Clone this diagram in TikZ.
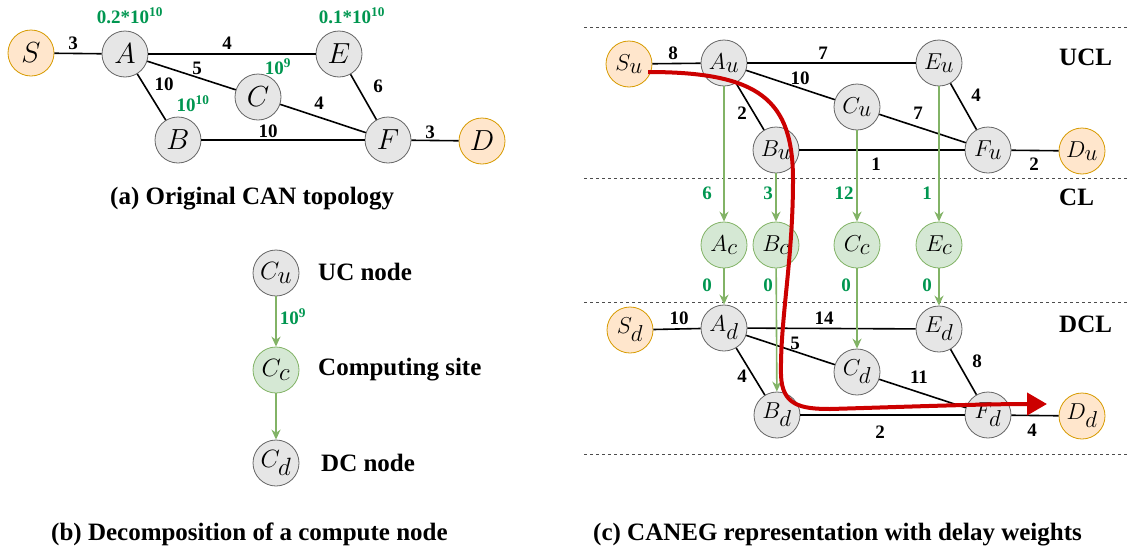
\RequirePackage{fix-cm}
\documentclass[tikz,border=0pt]{standalone}
\usepackage{fontspec}
\setmainfont{Liberation Serif}
\usetikzlibrary{arrows.meta}
\definecolor{gfill}{HTML}{E6E6E6}
\definecolor{gline}{HTML}{666666}
\definecolor{ofill}{HTML}{FFE6CC}
\definecolor{oline}{HTML}{D79B00}
\definecolor{cfill}{HTML}{D5E8D4}
\definecolor{cline}{HTML}{82B366}
\definecolor{gtext}{RGB}{0,150,80}
\definecolor{pathred}{HTML}{CC0000}
\newcommand\nsub[2]{#1_{\textstyle #2}}
\tikzset{
  base/.style={circle, minimum size=46pt, inner sep=0pt, line width=0.8pt},
  grynode/.style={base, draw=gline, fill=gfill},
  orgnode/.style={base, draw=oline, fill=ofill},
  grnnode/.style={base, draw=cline, fill=cfill},
  fa/.style={font=\fontsize{29}{31}\selectfont},
  fb/.style={font=\fontsize{25}{27}\selectfont},
  fc/.style={font=\fontsize{23}{25}\selectfont},
  edge/.style={line width=1.6pt, black},
  wt/.style={font=\bfseries\fontsize{19}{21}\selectfont, inner sep=0pt},
  gwt/.style={font=\bfseries\fontsize{19}{21}\selectfont, inner sep=0pt, text=gtext},
  garrow/.style={line width=1.6pt, draw=cline, -{Stealth[length=10pt,width=9pt]}},
  lbl/.style={font=\bfseries\fontsize{25}{27}\selectfont, inner sep=0pt},
  layerline/.style={line width=0.7pt, draw=black!70, dash pattern=on 3pt off 3pt},
}
\begin{document}
\begin{tikzpicture}[x=1pt,y=-1pt]
\useasboundingbox (0,0) rectangle (1130,552);
% ---------- (a) ----------
\node[orgnode,fa] (S) at (31,53) {$S$};
\node[grynode,fa] (A) at (125,54) {$A$};
\node[grynode,fa] (E) at (339,54) {$E$};
\node[grynode,fa] (C) at (258,97) {$C$};
\node[grynode,fa] (B) at (178,140) {$B$};
\node[grynode,fa] (F) at (388,140) {$F$};
\node[orgnode,fa] (D) at (482,141) {$D$};
\draw[edge] (S) -- (A);
\draw[edge] (A) -- (E);
\draw[edge] (A) -- (C);
\draw[edge] (A) -- (B);
\draw[edge] (C) -- (F);
\draw[edge] (E) -- (F);
\draw[edge] (B) -- (F);
\draw[edge] (F) -- (D);
\node[wt] (wa1) at (73,43) {3};
\node[wt] (wa2) at (227,43) {4};
\node[wt] (wa3) at (197,68) {5};
\node[wt] (wa4) at (164,84) {10};
\node[wt] (wa5) at (378,86) {6};
\node[wt] (wa6) at (319,103) {4};
\node[wt] (wa7) at (268,131) {10};
\node[wt] (wa8) at (430,132) {3};
\node[gwt] (ca) at (130,16) {0.2*10\textsuperscript{10}};
\node[gwt] (ce) at (352,16) {0.1*10\textsuperscript{10}};
\node[gwt] (cb) at (193,104) {10\textsuperscript{10}};
\node[gwt] (cc) at (278,67) {10\textsuperscript{9}};
\node[lbl, anchor=base west] (capa) at (110,204) {(a) Original CAN topology};
% ---------- (b) ----------
\node[grynode,fb] (Cu) at (276,273) {$\nsub{C}{u}$};
\node[grnnode,fb] (Cc) at (276,370) {$\nsub{C}{c}$};
\node[grynode,fb] (Cd) at (276,463) {$\nsub{C}{d}$};
\draw[garrow] (Cu) -- (Cc);
\draw[garrow] (Cc) -- (Cd);
\node[gwt] (cw) at (293,317) {10\textsuperscript{9}};
\node[lbl, anchor=west] (lu) at (318,272) {UC node};
\node[lbl, anchor=west] (lc) at (318,370) {Computing site};
\node[lbl, anchor=west] (ld) at (321,463) {DC node};
\node[lbl, anchor=base west] (capb) at (51,540) {(b) Decomposition of a compute node};
% ---------- (c) ----------
\coordinate (l1a) at (584,27);  \coordinate (l1b) at (1130,27);
\coordinate (l2a) at (584,178); \coordinate (l2b) at (1130,178);
\coordinate (l3a) at (584,302); \coordinate (l3b) at (1130,302);
\coordinate (l4a) at (584,454); \coordinate (l4b) at (1130,454);
\draw[layerline] (l1a) -- (l1b);
\draw[layerline] (l2a) -- (l2b);
\draw[layerline] (l3a) -- (l3b);
\draw[layerline] (l4a) -- (l4b);
\node[lbl, anchor=west] (ucl) at (1059,57) {UCL};
\node[lbl, anchor=west] (cl) at (1059,197) {CL};
\node[lbl, anchor=west] (dcl) at (1059,324) {DCL};
% UCL nodes
\node[orgnode,fc] (Su) at (629,64) {$\nsub{S}{u}$};
\node[grynode,fc] (Au) at (724,63) {$\nsub{A}{u}$};
\node[grynode,fc] (Eu) at (939,63) {$\nsub{E}{u}$};
\node[grynode,fc] (Cu2) at (857,107) {$\nsub{C}{u}$};
\node[grynode,fc] (Bu) at (776,150) {$\nsub{B}{u}$};
\node[grynode,fc] (Fu) at (988,150) {$\nsub{F}{u}$};
\node[orgnode,fc] (Du) at (1082,151) {$\nsub{D}{u}$};
% CL nodes
\node[grnnode,fc] (Ac) at (724,245) {$\nsub{A}{c}$};
\node[grnnode,fc] (Bc) at (776,245) {$\nsub{B}{c}$};
\node[grnnode,fc] (Cc2) at (857,245) {$\nsub{C}{c}$};
\node[grnnode,fc] (Ec) at (939,245) {$\nsub{E}{c}$};
% DCL nodes
\node[orgnode,fc] (Sd) at (630,330) {$\nsub{S}{d}$};
\node[grynode,fc] (Ad) at (724,328) {$\nsub{A}{d}$};
\node[grynode,fc] (Ed) at (939,329) {$\nsub{E}{d}$};
\node[grynode,fc] (Cd2) at (857,372) {$\nsub{C}{d}$};
\node[grynode,fc] (Bd) at (777,415) {$\nsub{B}{d}$};
\node[grynode,fc] (Fd) at (988,415) {$\nsub{F}{d}$};
\node[orgnode,fc] (Dd) at (1082,416) {$\nsub{D}{d}$};
% UCL edges
\draw[edge] (Su) -- (Au);
\draw[edge] (Au) -- (Eu);
\draw[edge] (Au) -- (Cu2);
\draw[edge] (Au) -- (Bu);
\draw[edge] (Bu) -- (Fu);
\draw[edge] (Cu2) -- (Fu);
\draw[edge] (Eu) -- (Fu);
\draw[edge] (Fu) -- (Du);
\node[wt] (u1) at (673,53) {8};
\node[wt] (u2) at (823,53) {7};
\node[wt] (u3) at (800,78) {10};
\node[wt] (u4) at (742,113) {2};
\node[wt] (u5) at (876,164) {1};
\node[wt] (u6) at (918,113) {7};
\node[wt] (u7) at (976,95) {4};
\node[wt] (u8) at (1034,164) {2};
% DCL edges
\draw[edge] (Sd) -- (Ad);
\draw[edge] (Ad) -- (Ed);
\draw[edge] (Ad) -- (Cd2);
\draw[edge] (Ad) -- (Bd);
\draw[edge] (Bd) -- (Fd);
\draw[edge] (Cd2) -- (Fd);
\draw[edge] (Ed) -- (Fd);
\draw[edge] (Fd) -- (Dd);
\node[wt] (d1) at (679,318) {10};
\node[wt] (d2) at (824,318) {14};
\node[wt] (d3) at (795,343) {5};
\node[wt] (d4) at (742,376) {4};
\node[wt] (d5) at (880,432) {2};
\node[wt] (d6) at (919,377) {11};
\node[wt] (d7) at (977,361) {8};
\node[wt] (d8) at (1032,430) {4};
% green arrows
\draw[garrow] (Au) -- (Ac);
\draw[garrow] (Bu) -- (Bc);
\draw[garrow] (Cu2) -- (Cc2);
\draw[garrow] (Eu) -- (Ec);
\draw[garrow] (Ac) -- (Ad);
\draw[garrow] (Bc) -- (Bd);
\draw[garrow] (Cc2) -- (Cd2);
\draw[garrow] (Ec) -- (Ed);
\node[gwt] (g1) at (707,193) {6};
\node[gwt] (g2) at (768,193) {3};
\node[gwt] (g3) at (844,193) {12};
\node[gwt] (g4) at (927,193) {1};
\node[gwt] (g5) at (707,285) {0};
\node[gwt] (g6) at (768,285) {0};
\node[gwt] (g7) at (846,285) {0};
\node[gwt] (g8) at (927,285) {0};
% red path
\coordinate (rs) at (648,72);
\coordinate (re) at (1047,404);
\draw[pathred, line width=4pt, -{Triangle[length=20pt,width=22pt]}]
  (rs) .. controls (760,72) and (793,100) .. (793,180)
       .. controls (793,260) and (780,320) .. (781,375)
       .. controls (782,405) and (800,409) .. (830,409)
       .. controls (900,407) and (980,404) .. (re);
\node[lbl, anchor=base west] (capc) at (593,540) {(c) CANEG representation with delay weights};
\end{tikzpicture}
\end{document}
